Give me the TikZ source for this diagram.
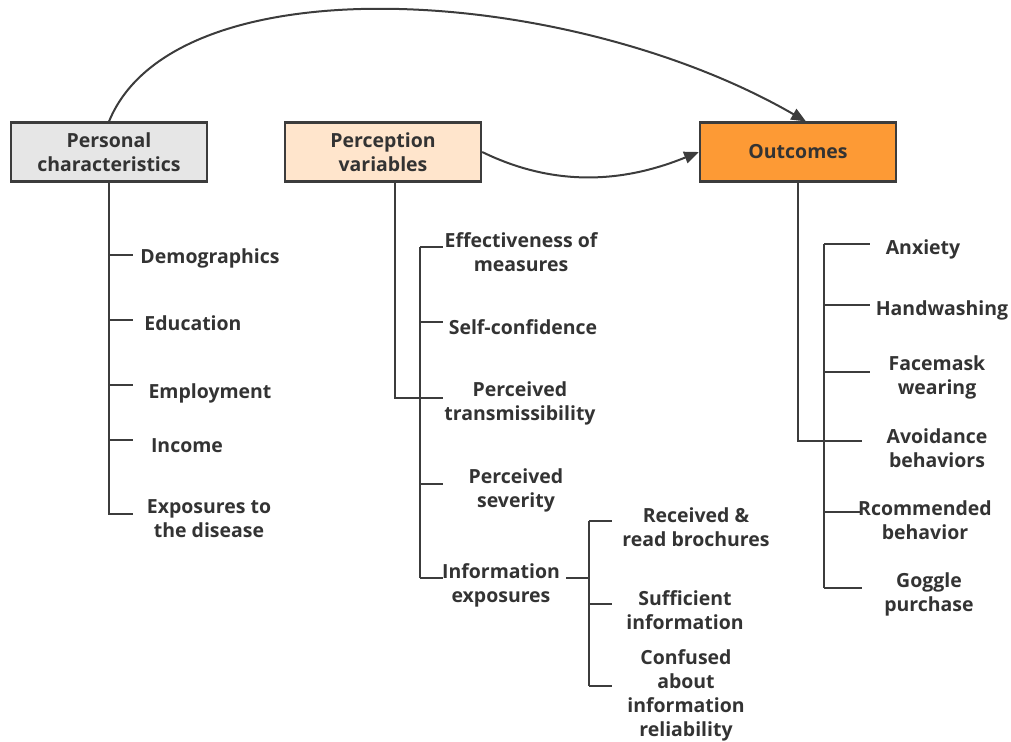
\documentclass[tikz,border=0pt]{standalone}
\usepackage{fontspec}
\setmainfont{Open Sans}
\usetikzlibrary{arrows.meta}
\definecolor{ln}{HTML}{3C3C3C}
\definecolor{tx}{HTML}{333333}
\definecolor{pcfill}{HTML}{E6E6E6}
\definecolor{pvfill}{HTML}{FFE5CC}
\definecolor{ocfill}{HTML}{FD9A35}
\begin{document}
\begin{tikzpicture}[x=0.75pt,y=-0.75pt,
  box/.style={draw=ln,line width=1.8pt,minimum width=147pt,minimum height=44pt,
    align=center,text=tx,font=\bfseries\fontsize{14.6}{18}\selectfont,inner sep=0pt},
  lbl/.style={text=tx,font=\bfseries\fontsize{14.6}{18}\selectfont,align=center,inner sep=0pt,yshift=-1.5pt},
  tree/.style={draw=ln,line width=1.5pt},
  thick tree/.style={draw=ln,line width=2.2pt},
  arr/.style={draw=ln,line width=1.5pt,-{Triangle[length=11pt,width=9pt]}}]
\useasboundingbox (0,0) rectangle (1011,742);

% main boxes
\node[box,fill=pcfill] (pc) at (109,152) {Personal\\characteristics};
\node[box,fill=pvfill] (pv) at (383,152) {Perception\\variables};
\node[box,fill=ocfill] (oc) at (798,152) {Outcomes};

% arrows
\draw[arr] (pc.north) .. controls (175,-40) and (570,-15) .. ([xshift=6pt]oc.north);
\draw[arr] (pv.east) .. controls (560,190) and (630,180) .. (oc.west);

% ---- Personal characteristics tree
\node[lbl] (demo) at (210,256) {Demographics};
\node[lbl] (edu)  at (193,321) {Education};
\node[lbl] (emp)  at (210,391) {Employment};
\node[lbl] (inc)  at (187,444) {Income};
\node[lbl] (exp)  at (209,517) {Exposures to\\the disease};
\coordinate (pcx) at (109,514);
\draw[tree] (pc.south) -- (pcx) -- (133,514);
\draw[thick tree] (109,255) -- (109,440);
\draw[thick tree] (109,255) -- (133,255);
\draw[tree] (109,320) -- (133,320);
\draw[tree] (109,385) -- (133,385);
\draw[tree] (109,440) -- (133,440);

% ---- Perception variables tree
\node[lbl] (eff) at (521,250) {Effectiveness of\\measures};
\node[lbl] (sc)  at (523,325) {Self-confidence};
\node[lbl] (tr)  at (520,401) {Perceived\\transmissibility};
\node[lbl] (sev) at (516,488) {Perceived\\severity};
\node[lbl] (inf) at (501,583) {Information\\exposures};
\coordinate (pvj) at (395,398);
\draw[tree] (pv.south -| pvj) -- (pvj) -- (443,398);
\draw[thick tree] (420,247) -- (420,578);
\draw[thick tree] (420,247) -- (443,247);
\draw[thick tree] (420,322) -- (443,322);
\draw[tree] (420,484) -- (443,484);
\draw[tree] (420,578) -- (443,578);

% information sub-branch
\node[lbl] (rec)  at (696,525) {Received \&\\read brochures};
\node[lbl] (suf)  at (685,608) {Sufficient\\information};
\node[lbl] (conf) at (686,693) {Confused\\about\\information\\reliability};
\draw[thick tree] (566,578) -- (589,578);
\draw[thick tree] (589,521) -- (589,686);
\draw[tree] (589,521) -- (612,521);
\draw[tree] (589,604) -- (612,604);
\draw[tree] (589,686) -- (612,686);

% ---- Outcomes tree
\node[lbl] (anx)  at (923,247) {Anxiety};
\node[lbl] (hand) at (942,308) {Handwashing};
\node[lbl] (face) at (937,375) {Facemask\\wearing};
\node[lbl] (avo)  at (937,446) {Avoidance\\behaviors};
\node[lbl] (rcm)  at (925,518) {Rcommended\\behavior};
\node[lbl] (gog)  at (929,592) {Goggle\\purchase};
\coordinate (ocj) at (798,441);
\draw[tree] (oc.south) -- (ocj) -- (862,441);
\draw[thick tree] (824,244) -- (824,441);
\draw[tree] (824,441) -- (824,588);
\draw[thick tree] (824,244) -- (870,244);
\draw[tree] (824,305) -- (870,305);
\draw[tree] (824,372) -- (870,372);
\draw[tree] (824,512) -- (862,512);
\draw[tree] (824,588) -- (862,588);
\end{tikzpicture}
\end{document}
